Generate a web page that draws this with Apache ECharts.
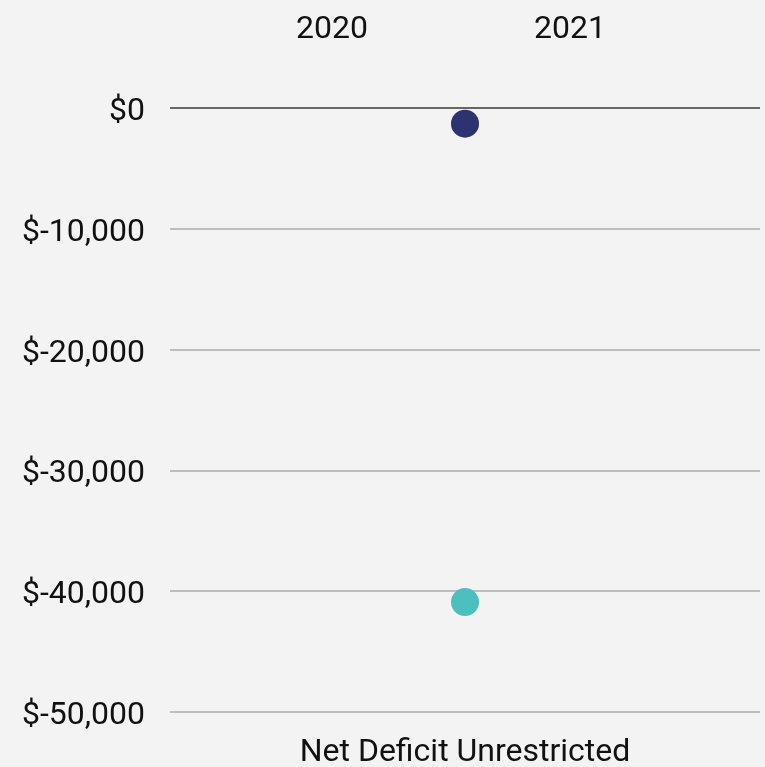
<!DOCTYPE html>
<html>
<head>
<meta charset="utf-8">
<script src="https://cdn.jsdelivr.net/npm/echarts@6/dist/echarts.min.js"></script>
<style>
  html, body { margin: 0; padding: 0; background: #f3f3f3; }
  #chart { width: 765px; height: 767px; }
</style>
</head>
<body>
<div id="chart"></div>
<script>
// data
var categories = ['Net Deficit Unrestricted'];
var years = ['2020', '2021'];
var values2020 = [-40900];
var values2021 = [-1300];
var yTicks = [-50000, -40000, -30000, -20000, -10000, 0];

var myChart = echarts.init(document.getElementById('chart'));

var option = {
    backgroundColor: '#f3f3f3',
    textStyle: { fontFamily: 'Roboto' },
    legend: {
        data: years,
        top: 9,
        left: 286,
        icon: 'none',
        itemWidth: 0,
        itemGap: 161,
        textStyle: { fontSize: 32, color: '#111', fontFamily: 'Roboto' }
    },
    grid: {
        left: 170,
        right: 5,
        top: 108,
        bottom: 55,
        outerBoundsMode: 'none'
    },
    xAxis: {
        type: 'category',
        data: categories,
        axisLine: { show: false },
        axisTick: { show: false },
        axisLabel: { fontSize: 32, color: '#111', margin: 25 }
    },
    yAxis: {
        type: 'value',
        min: yTicks[0],
        max: yTicks[yTicks.length - 1],
        interval: 10000,
        axisLine: { show: false },
        axisTick: { show: false },
        axisLabel: {
            fontSize: 32,
            color: '#111',
            margin: 25,
            verticalAlign: 'top',
            padding: [-12, 0, 0, 0],
            formatter: function (v) {
                return '$' + v.toLocaleString('en-US');
            }
        },
        splitLine: {
            lineStyle: {
                width: 2,
                // 最上面的0线颜色深一点
                color: ['#bdbdbd', '#bdbdbd', '#bdbdbd', '#bdbdbd', '#bdbdbd', '#666']
            }
        }
    },
    series: [
        {
            name: years[0],
            type: 'scatter',
            data: values2020,
            symbolSize: 28,
            itemStyle: { color: '#4dbfbf', opacity: 1 }
        },
        {
            name: years[1],
            type: 'scatter',
            data: values2021,
            symbolSize: 28,
            itemStyle: { color: '#2d3270', opacity: 1 }
        }
    ]
};

myChart.setOption(option);
</script>
</body>
</html>
